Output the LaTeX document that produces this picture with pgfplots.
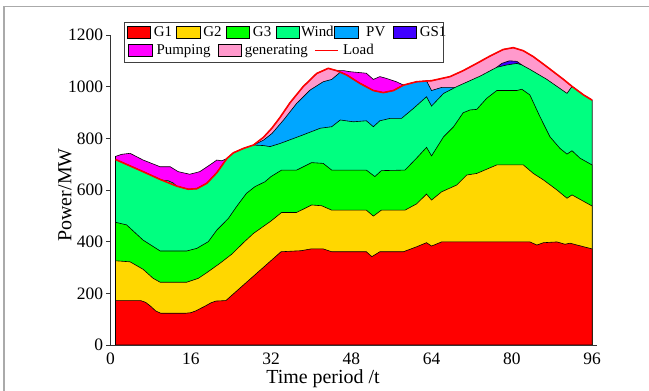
\documentclass[border=0pt]{standalone}
\usepackage{fontspec}
\setmainfont{Liberation Serif}
\usepackage{pgfplots}
\pgfplotsset{compat=1.18}
\definecolor{cG1}{RGB}{255,0,0}
\definecolor{cG2}{RGB}{255,215,0}
\definecolor{cG3}{RGB}{0,255,0}
\definecolor{cWind}{RGB}{0,255,128}
\definecolor{cPV}{RGB}{0,166,255}
\definecolor{cGS}{RGB}{64,0,255}
\definecolor{cPump}{RGB}{255,0,255}
\definecolor{cGen}{RGB}{255,153,204}
\definecolor{cFrame}{RGB}{170,170,170}
\pgfplotsset{
  commonax/.style={
    at={(0,0)}, anchor=south west,
    scale only axis, width=486.6bp, height=310bp,
    xmin=0, xmax=97, ymin=0, ymax=1200,
  },
  legrow/.style={
    legend style={draw=none, fill=none, inner sep=0pt, column sep=0pt,
      font=\fontsize{15}{17}\selectfont,
      nodes={inner sep=0pt}},
  }
}
\newcommand{\rectleg}[1]{\addlegendimage{legend image code/.code={\filldraw[fill=#1,draw=black,line width=0.6bp] (0bp,-6.15bp) rectangle (23.3bp,6.15bp);}}}
\begin{document}
\begin{tikzpicture}
\begin{axis}[commonax,
  axis x line*=bottom, axis y line*=left,
  axis line style={black!80, line width=0.8bp},
  xtick={0,16,32,48,64,80,96}, ytick={0,200,400,600,800,1000,1200},
  xticklabels={0,16,32,48,64,80,96},
  yticklabels={0,200,400,600,800,1000,1200},
  tick align=outside, major tick length=4bp,
  xtick style={draw=none},
  ytick style={black!80, line width=0.8bp},
  ticklabel style={font=\fontsize{17.5}{20}\selectfont},
  xlabel={Time period /t}, ylabel={Power/MW},
  label style={font=\fontsize{20}{24}\selectfont},
  xlabel style={at={(axis description cs:0.4367,-0.0774)}, anchor=north, inner sep=0pt},
  ylabel style={at={(axis description cs:-0.0935,0.484)}, anchor=center, inner sep=0pt},
  legrow,
  legend columns=6,
  legend style={at={(axis description cs:0.0333,1.009)}, anchor=west},
]
\rectleg{cG1}\addlegendentry{\hspace{3bp}\makebox[22.7bp][l]{G1}}
\rectleg{cG2}\addlegendentry{\hspace{3bp}\makebox[22.7bp][l]{G2}}
\rectleg{cG3}\addlegendentry{\hspace{3bp}\makebox[22.7bp][l]{G3}}
\rectleg{cWind}\addlegendentry{\hspace{1.5bp}\makebox[33.2bp][l]{Wind}}
\rectleg{cPV}\addlegendentry{\hspace{8bp}\makebox[26.7bp][l]{PV}}
\rectleg{cGS}\addlegendentry{\hspace{3bp}GS1}
% Pumping (storage charging), part A
\addplot[forget plot, fill=cPump, draw=black, line width=0.6bp] coordinates {
(1,730) (2.2,738) (3.9,742) (6.5,716) (9.9,690) (11.9,690) (13.5,671) (15.8,661) (17.8,671) (19.8,697) (21.2,716) (22.2,713) (23.2,722)
} \closedcycle;
% Pumping part B
\addplot[forget plot, fill=cPump, draw=black, line width=0.6bp] coordinates {
(45.1,1062) (46.5,1062) (47.7,1058) (51,1052) (52.4,1028) (53.7,1039) (55,1032) (57,1019) (58.4,1006)
} \closedcycle;
% generating (top = load)
\addplot[forget plot, fill=cGen, draw=black, line width=0.6bp] coordinates {
(1,718) (6.5,671) (9.9,641) (13.2,615) (15.5,603) (17.2,605) (19.2,626) (21.2,667) (23.2,722) (24.5,744) (26.5,761) (28.5,774) (30.5,804) (32.2,840) (33.8,881) (35.8,938) (38.4,1000) (41.1,1051) (43.4,1071) (45.1,1062) (47.1,1045) (49.7,1013) (52.4,985) (54.4,977) (56.4,985) (58.4,1006) (61,1019) (63,1022) (64,1023) (67.7,1039) (70.3,1062) (73,1090) (75.7,1119) (78.3,1144) (80.3,1151) (82.3,1139) (84.3,1116) (87,1077) (90.3,1028) (92,1001) (94.3,968) (96,948)
} \closedcycle;
% GS1 top
\addplot[forget plot, fill=cGS, draw=black, line width=0.6bp] coordinates {
(77,1075) (78,1090) (79.5,1100) (81,1098) (82,1084)
} \closedcycle;
% PV top
\addplot[forget plot, fill=cPV, draw=black, line width=0.6bp] coordinates {
(28.5,774) (30.5,793) (32.2,819) (34.5,871) (37.1,935) (39.8,987) (42.4,1019) (44.1,1028) (45.8,1056) (47.1,1045) (49.7,1013) (52.4,985) (54.4,977) (56.4,985) (58.4,1006) (61,1019) (63,1022) (64,985) (66,997) (68.7,997)
} \closedcycle;
% Wind top
\addplot[forget plot, fill=cWind, draw=black, line width=0.6bp] coordinates {
(1,718) (6.5,671) (9.9,641) (10.8,636) (11.5,636) (12.5,627) (13.2,615) (15.5,603) (17.2,605) (19.2,626) (21.2,667) (23.2,722) (24.5,744) (26.5,761) (28.5,774) (30.5,772) (31.8,768) (33.8,780) (37.8,809) (41.8,839) (44.1,845) (45.8,871) (48.4,864) (51,868) (52.4,845) (53.7,868) (55.7,877) (58,877) (60.4,916) (63,961) (64,925) (66.4,974) (69,1000) (73.7,1041) (77,1075) (79,1084) (81,1090) (82,1084) (83.6,1067) (87,1028) (91,974) (92,1001) (94.3,968) (96,948)
} \closedcycle;
% G3 top
\addplot[forget plot, fill=cG3, draw=black, line width=0.6bp] coordinates {
(1,475) (3.2,465) (6.5,406) (9.9,364) (15.2,364) (17.2,374) (19.5,400) (21.2,445) (23.5,490) (25.1,535) (27.1,587) (28.8,613) (30.8,632) (32,652) (34.1,677) (37.1,677) (40.1,706) (42.4,703) (44.1,677) (51,677) (52.7,652) (54,675) (58.7,677) (61,723) (63,765) (64,732) (66.4,806) (68.4,845) (70.3,899) (71.7,910) (73,912) (75,955) (77,985) (81,985) (82,990) (83.6,968) (85.6,884) (87.6,806) (89.6,761) (91,739) (92,752) (93.6,723) (96,697)
} \closedcycle;
% G2 top
\addplot[forget plot, fill=cG2, draw=black, line width=0.6bp] coordinates {
(1,326) (3.9,322) (6.5,293) (8.5,258) (9.9,243) (15.2,243) (17.5,258) (19.2,280) (21.8,316) (24.2,352) (26.5,396) (28.5,432) (32,480) (34.1,513) (37.1,513) (40.1,542) (42.1,539) (44.1,522) (51,522) (52.4,499) (54,522) (58.7,522) (61,546) (63,584) (64,561) (66,593) (69,619) (71,658) (73,664) (77,697) (82.3,697) (84.3,664) (86.3,639) (89,600) (91,568) (92,581) (96,538)
} \closedcycle;
% G1 top
\addplot[forget plot, fill=cG1, draw=black, line width=0.6bp] coordinates {
(1,172) (6,172) (7,165) (8,150) (9,132) (10,123) (15,123) (16,125) (17,132) (18,142) (19,152) (20,163) (21,170) (23,172) (34,361) (38,365) (40,372) (42.4,372) (44.1,361) (51,361) (52.1,342) (53.7,361) (58.4,361) (61,380) (63,396) (64,383) (66,399) (83.6,399) (85,387) (86.3,396) (89,399) (90.6,390) (91.6,394) (96,372)
} \closedcycle;
% Load
\addplot[forget plot, red, line width=1.6bp] coordinates {
(1,718) (6.5,671) (9.9,641) (13.2,615) (15.5,603) (17.2,605) (19.2,626) (21.2,667) (23.2,722) (24.5,744) (26.5,761) (28.5,774) (30.5,804) (32.2,840) (33.8,881) (35.8,938) (38.4,1000) (41.1,1051) (43.4,1071) (45.1,1062) (47.1,1045) (49.7,1013) (52.4,985) (54.4,977) (56.4,985) (58.4,1006) (61,1019) (63,1022) (64,1023) (67.7,1039) (70.3,1062) (73,1090) (75.7,1119) (78.3,1144) (80.3,1151) (82.3,1139) (84.3,1116) (87,1077) (90.3,1028) (92,1001) (94.3,968) (96,948)
};
\end{axis}
\begin{axis}[commonax, hide axis, legrow,
  legend columns=3,
  legend style={at={(axis description cs:0.036,0.95)}, anchor=west},
]
\addplot[forget plot, draw=none] coordinates {(0,0)};
\rectleg{cPump}\addlegendentry{\hspace{4.4bp}\makebox[61bp][l]{Pumping}}
\rectleg{cGen}\addlegendentry{\hspace{3.4bp}\makebox[69.3bp][l]{generating}}
\addlegendimage{legend image code/.code={\draw[red,line width=1.6bp] (0bp,0bp) -- (23.3bp,0bp);}}
\addlegendentry{\hspace{4bp}Load}
\end{axis}
\draw[black!75, line width=0.7bp] (13.5bp,282.7bp) rectangle (332.5bp,323bp);
\draw[cFrame, line width=1.3bp] (-106.5bp,-46bp) -- (-106.5bp,338.3bp) -- (538.5bp,338.3bp);
\pgfresetboundingbox
\useasboundingbox (-110.5bp,-46bp) rectangle (538.5bp,345bp);
\end{tikzpicture}
\end{document}
